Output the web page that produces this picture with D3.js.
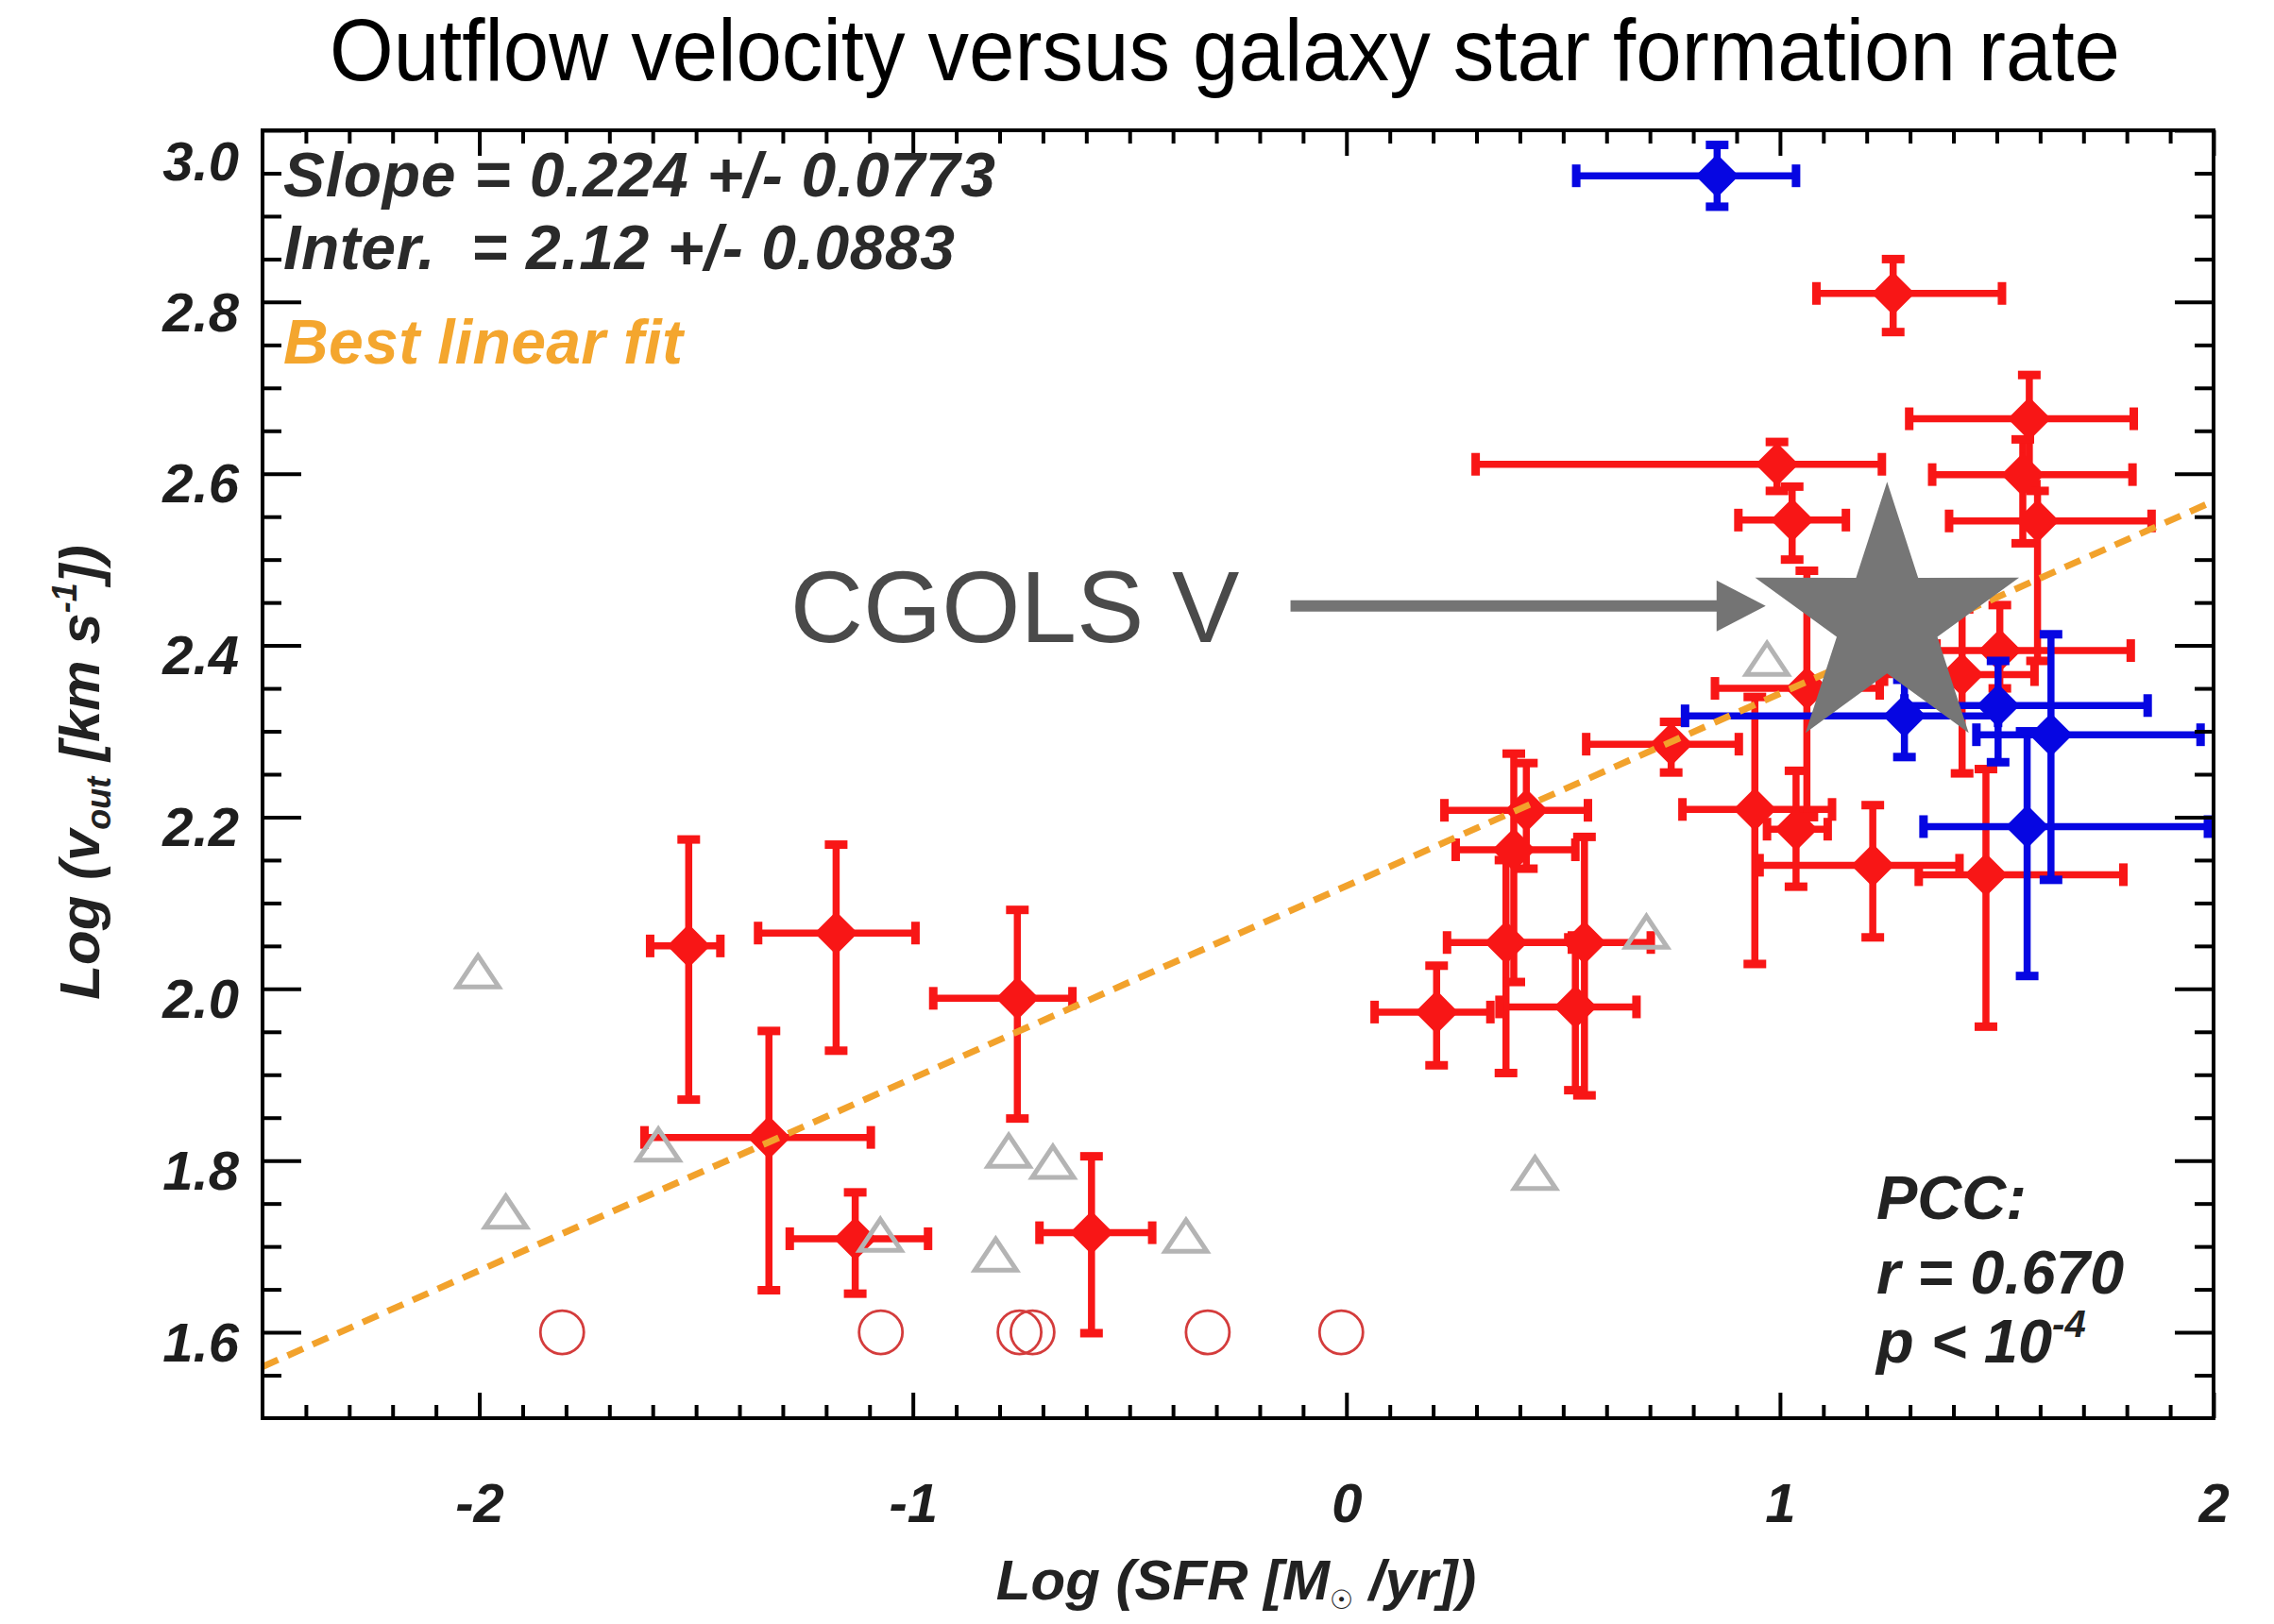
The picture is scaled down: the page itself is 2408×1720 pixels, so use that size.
<!DOCTYPE html>
<html>
<head>
<meta charset="utf-8">
<title>Outflow velocity versus galaxy star formation rate</title>
<script src="https://cdn.jsdelivr.net/npm/d3@7/dist/d3.min.js"></script>
<style>
  html, body { margin: 0; padding: 0; background: #fff; }
  svg { display: block; }
  text { font-family: "Liberation Sans", Arial, Helvetica, sans-serif; white-space: pre; }
</style>
</head>
<body>
<svg id="chart" width="2408" height="1720"></svg>
<script>
// ---- axis definitions ----
const xDomain = [-2.5, 2.0];
const yDomain = [1.5, 3.0];
const xTicks = [-2, -1, 0, 1, 2];
const yTicks = [1.6, 1.8, 2.0, 2.2, 2.4, 2.6, 2.8, 3.0];

// ---- detected outflows: [logSFR, logVout, sfrLow, sfrHigh, voutLow, voutHigh] ----
const redPoints = [
  [-1.517, 2.050, -1.606, -1.444, 1.871, 2.174],
  [-1.177, 2.065, -1.357, -0.994, 1.928, 2.168],
  [-1.332, 1.827, -1.619, -1.097, 1.649, 1.951],
  [-1.133, 1.709, -1.284, -0.965, 1.645, 1.763],
  [-0.759, 1.989, -0.953, -0.632, 1.849, 2.092],
  [-0.588, 1.716, -0.708, -0.448, 1.599, 1.805],
  [ 0.208, 1.973,  0.065,  0.332, 1.911, 2.027],
  [ 0.415, 2.208,  0.226,  0.557, 2.140, 2.263],
  [ 0.386, 2.162,  0.252,  0.528, 2.008, 2.274],
  [ 0.368, 2.054,  0.232,  0.520, 1.902, 2.150],
  [ 0.549, 2.054,  0.360,  0.702, 1.876, 2.177],
  [ 0.528, 1.979,  0.353,  0.669, 1.882, 2.060],
  [ 0.749, 2.285,  0.553,  0.905, 2.252, 2.311],
  [ 0.993, 2.611,  0.298,  1.235, 2.580, 2.637],
  [ 1.028, 2.546,  0.904,  1.152, 2.500, 2.585],
  [ 1.062, 2.350,  0.850,  1.230, 2.200, 2.487],
  [ 0.942, 2.209,  0.775,  1.120, 2.029, 2.340],
  [ 1.037, 2.186,  0.970,  1.110, 2.119, 2.254],
  [ 1.214, 2.144,  0.953,  1.414, 2.060, 2.214],
  [ 1.261, 2.810,  1.084,  1.512, 2.765, 2.850],
  [ 1.575, 2.664,  1.298,  1.816, 2.588, 2.715],
  [ 1.560, 2.599,  1.351,  1.813, 2.519, 2.640],
  [ 1.594, 2.545,  1.390,  1.857, 2.382, 2.580],
  [ 1.507, 2.394,  1.361,  1.809, 2.350, 2.447],
  [ 1.420, 2.366,  1.240,  1.587, 2.251, 2.442],
  [ 1.475, 2.133,  1.320,  1.792, 1.956, 2.256]
];

const bluePoints = [
  [ 0.855, 2.947,  0.530,  1.037, 2.911, 2.983],
  [ 1.287, 2.318,  0.781,  1.503, 2.270, 2.360],
  [ 1.503, 2.330,  1.287,  1.848, 2.264, 2.382],
  [ 1.625, 2.296,  1.453,  1.970, 2.127, 2.413],
  [ 1.570, 2.189,  1.331,  1.987, 2.015, 2.300]
];

// ---- other samples: [logSFR, logVout] ----
const grayTriangles = [
  [-2.003, 2.020], [-1.939, 1.740], [-1.587, 1.818], [-1.075, 1.713],
  [-0.779, 1.811], [-0.677, 1.798], [-0.809, 1.690], [-0.370, 1.712],
  [ 0.435, 1.785], [ 0.692, 2.066], [ 0.970, 2.384]
];

// non-detections placed on the floor value
const nonDetectionSFR = [-1.809, -1.074, -0.754, -0.724, -0.320, -0.012];
const nonDetectionV = 1.6;

// best linear fit
const fitSlope = 0.224;
const fitIntercept = 2.12;

// highlighted simulation
const cgolsPoint = [1.247, 2.429];
const cgolsArrow = [[-0.129, 2.446], [0.967, 2.446]];
const cgolsLabelAt = [-1.283, 2.404];

// ---- layout ----
const W = 2408, H = 1720;
const plot = { left: 278, right: 2344, top: 138, bottom: 1502 };

const x = d3.scaleLinear().domain(xDomain).range([plot.left, plot.right]);
const y = d3.scaleLinear().domain(yDomain).range([plot.bottom, plot.top]);

const svg = d3.select('#chart');
svg.append('rect').attr('width', W).attr('height', H).attr('fill', '#fff');

// title
svg.append('text')
  .attr('x', 349).attr('y', 85)
  .attr('font-size', 92)
  .attr('textLength', 1896).attr('lengthAdjust', 'spacingAndGlyphs')
  .attr('fill', '#000')
  .text('Outflow velocity versus galaxy star formation rate');

const dataLayer = svg.append('g');

// ---- non-detections (open circles) ----
dataLayer.append('g').selectAll('circle')
  .data(nonDetectionSFR)
  .join('circle')
  .attr('cx', d => x(d))
  .attr('cy', y(nonDetectionV))
  .attr('r', 23)
  .attr('fill', 'none')
  .attr('stroke', '#d43c3c')
  .attr('stroke-width', 2.8);

// ---- diamond with error bars ----
function diamond(cx, cy, h) {
  return `M${cx},${cy - h}L${cx + h},${cy}L${cx},${cy + h}L${cx - h},${cy}Z`;
}

function drawErrorPoints(parent, data, color) {
  const g = parent.append('g');
  const lw = 7.5, capLen = 24, capThk = 9;

  g.selectAll('line.h').data(data).join('line').attr('class', 'h')
    .attr('x1', d => x(d[2])).attr('x2', d => x(d[3]))
    .attr('y1', d => y(d[1])).attr('y2', d => y(d[1]))
    .attr('stroke', color).attr('stroke-width', lw);

  g.selectAll('line.v').data(data).join('line').attr('class', 'v')
    .attr('x1', d => x(d[0])).attr('x2', d => x(d[0]))
    .attr('y1', d => y(d[4])).attr('y2', d => y(d[5]))
    .attr('stroke', color).attr('stroke-width', lw);

  const hCaps = data.flatMap(d => [[d[2], d[1]], [d[3], d[1]]]);
  g.selectAll('rect.hc').data(hCaps).join('rect').attr('class', 'hc')
    .attr('x', p => x(p[0]) - capThk / 2).attr('y', p => y(p[1]) - capLen / 2)
    .attr('width', capThk).attr('height', capLen)
    .attr('fill', color);

  const vCaps = data.flatMap(d => [[d[0], d[4]], [d[0], d[5]]]);
  g.selectAll('rect.vc').data(vCaps).join('rect').attr('class', 'vc')
    .attr('x', p => x(p[0]) - capLen / 2).attr('y', p => y(p[1]) - capThk / 2)
    .attr('width', capLen).attr('height', capThk)
    .attr('fill', color);

  g.selectAll('path.dm').data(data).join('path').attr('class', 'dm')
    .attr('d', d => diamond(x(d[0]), y(d[1]), 23))
    .attr('fill', color);
}

drawErrorPoints(dataLayer, redPoints, '#f81616');

// ---- open triangles ----
dataLayer.append('g').selectAll('path')
  .data(grayTriangles)
  .join('path')
  .attr('d', d => {
    const cx = x(d[0]), cy = y(d[1]);
    return `M${cx},${cy - 17}L${cx + 22},${cy + 16}L${cx - 22},${cy + 16}Z`;
  })
  .attr('fill', 'none')
  .attr('stroke', '#b4b4b4')
  .attr('stroke-width', 5)
  .attr('stroke-linejoin', 'miter');

drawErrorPoints(dataLayer, bluePoints, '#0606e2');

// ---- best linear fit ----
dataLayer.append('line')
  .attr('x1', x(xDomain[0])).attr('y1', y(fitIntercept + fitSlope * xDomain[0]))
  .attr('x2', x(xDomain[1])).attr('y2', y(fitIntercept + fitSlope * xDomain[1]))
  .attr('stroke', '#f2a22c')
  .attr('stroke-width', 7)
  .attr('stroke-dasharray', '18 11');

// ---- CGOLS V star, arrow and label ----
function starPath(cx, cy, R, r) {
  let p = '';
  for (let i = 0; i < 10; i++) {
    const a = -Math.PI / 2 + i * Math.PI / 5;
    const rad = i % 2 === 0 ? R : r;
    p += (i ? 'L' : 'M') + (cx + rad * Math.cos(a)).toFixed(1) + ',' + (cy + rad * Math.sin(a)).toFixed(1);
  }
  return p + 'Z';
}

const ann = svg.append('g');
ann.append('path')
  .attr('d', starPath(x(cgolsPoint[0]), y(cgolsPoint[1]), 147, 56))
  .attr('fill', '#767676');

const ax0 = x(cgolsArrow[0][0]), ax1 = x(cgolsArrow[1][0]), ay = y(cgolsArrow[0][1]);
const headLen = 52, headHalf = 27;
ann.append('line')
  .attr('x1', ax0).attr('x2', ax1 - headLen + 2)
  .attr('y1', ay).attr('y2', ay)
  .attr('stroke', '#747474').attr('stroke-width', 12);
ann.append('path')
  .attr('d', `M${ax1},${ay}L${ax1 - headLen},${ay - headHalf}L${ax1 - headLen},${ay + headHalf}Z`)
  .attr('fill', '#747474');

ann.append('text')
  .attr('x', x(cgolsLabelAt[0])).attr('y', y(cgolsLabelAt[1]))
  .attr('font-size', 107)
  .attr('fill', '#4a4a4a')
  .text('CGOLS V');

// ---- axes (inward ticks on all four sides) ----
const xMinor = d3.range(-24, 20).map(i => i / 10)
  .filter(v => !xTicks.some(t => Math.abs(t - v) < 1e-6));
const yMinor = d3.range(31, 60).map(i => i / 20)
  .filter(v => !yTicks.some(t => Math.abs(t - v) < 1e-6));

const xMajLen = 27, xMinLen = 14, yMajLen = 41, yMinLen = 20;
const tickFont = { size: 58, fill: '#1e1e1e' };

function styleAxis(g) {
  g.select('.domain').remove();
  g.selectAll('line').attr('stroke', '#000').attr('stroke-width', 4);
  g.attr('font-family', '"Liberation Sans", Arial, Helvetica, sans-serif')
   .attr('font-size', tickFont.size)
   .attr('font-weight', 'bold')
   .attr('font-style', 'italic');
  g.selectAll('text').attr('fill', tickFont.fill);
}

const axes = svg.append('g');

// bottom
axes.append('g').attr('transform', `translate(0,${plot.bottom})`)
  .call(d3.axisBottom(x).tickValues(xTicks).tickSize(-xMajLen).tickPadding(69).tickFormat(d => String(d)))
  .call(styleAxis);
axes.append('g').attr('transform', `translate(0,${plot.bottom})`)
  .call(d3.axisBottom(x).tickValues(xMinor).tickSize(-xMinLen).tickFormat(''))
  .call(styleAxis);

// top
axes.append('g').attr('transform', `translate(0,${plot.top})`)
  .call(d3.axisTop(x).tickValues(xTicks).tickSize(-xMajLen).tickFormat(''))
  .call(styleAxis);
axes.append('g').attr('transform', `translate(0,${plot.top})`)
  .call(d3.axisTop(x).tickValues(xMinor).tickSize(-xMinLen).tickFormat(''))
  .call(styleAxis);

// left
const leftAxis = axes.append('g').attr('transform', `translate(${plot.left},0)`)
  .call(d3.axisLeft(y).tickValues(yTicks).tickSize(-yMajLen).tickPadding(25).tickFormat(d => d.toFixed(1)))
  .call(styleAxis);
leftAxis.selectAll('text').attr('dy', '0.52em');
leftAxis.selectAll('text').filter(d => d === 3.0).attr('dy', '0.9em');
axes.append('g').attr('transform', `translate(${plot.left},0)`)
  .call(d3.axisLeft(y).tickValues(yMinor).tickSize(-yMinLen).tickFormat(''))
  .call(styleAxis);

// right
axes.append('g').attr('transform', `translate(${plot.right},0)`)
  .call(d3.axisRight(y).tickValues(yTicks).tickSize(-yMajLen).tickFormat(''))
  .call(styleAxis);
axes.append('g').attr('transform', `translate(${plot.right},0)`)
  .call(d3.axisRight(y).tickValues(yMinor).tickSize(-yMinLen).tickFormat(''))
  .call(styleAxis);

// frame
axes.append('rect')
  .attr('x', plot.left).attr('y', plot.top)
  .attr('width', plot.right - plot.left).attr('height', plot.bottom - plot.top)
  .attr('fill', 'none').attr('stroke', '#000').attr('stroke-width', 4);

// ---- axis titles ----
const yLabel = svg.append('text')
  .attr('transform', 'translate(105,818) rotate(-90)')
  .attr('text-anchor', 'middle')
  .attr('font-size', 60).attr('font-weight', 'bold').attr('font-style', 'italic')
  .attr('fill', '#222');
yLabel.append('tspan').text('Log (v');
yLabel.append('tspan').attr('font-size', 36).attr('dy', 12).text('out');
yLabel.append('tspan').attr('dy', -12).text(' [km s');
yLabel.append('tspan').attr('font-size', 36).attr('dy', -24).text('-1');
yLabel.append('tspan').attr('dy', 24).text('])');

const xLabel = svg.append('text')
  .attr('x', 1309).attr('y', 1694)
  .attr('text-anchor', 'middle')
  .attr('font-size', 60).attr('font-weight', 'bold').attr('font-style', 'italic')
  .attr('fill', '#222');
xLabel.append('tspan').text('Log (SFR [M');
xLabel.append('tspan').attr('font-size', 28).attr('font-style', 'normal').attr('font-weight', 'normal').attr('dy', 10).text('\u2609');
xLabel.append('tspan').attr('dy', -10).text(' /yr])');

// ---- fit statistics ----
const stats = svg.append('g')
  .attr('font-size', 66).attr('font-weight', 'bold').attr('font-style', 'italic');
stats.append('text').attr('x', 300).attr('y', 208).attr('fill', '#2a2a2a')
  .attr('textLength', 754).attr('lengthAdjust', 'spacing')
  .text('Slope = 0.224 +/- 0.0773');
stats.append('text').attr('x', 300).attr('y', 285).attr('fill', '#2a2a2a')
  .attr('textLength', 711).attr('lengthAdjust', 'spacing')
  .text('Inter.  = 2.12 +/- 0.0883');
stats.append('text').attr('x', 300).attr('y', 385).attr('fill', '#f4a62e')
  .attr('textLength', 423).attr('lengthAdjust', 'spacing')
  .text('Best linear fit');

// ---- correlation ----
const pcc = svg.append('g')
  .attr('font-size', 65).attr('font-weight', 'bold').attr('font-style', 'italic')
  .attr('fill', '#222');
pcc.append('text').attr('x', 1987).attr('y', 1291).text('PCC:');
pcc.append('text').attr('x', 1987).attr('y', 1370).text('r = 0.670');
const pText = pcc.append('text').attr('x', 1987).attr('y', 1443);
pText.append('tspan').text('p < 10');
pText.append('tspan').attr('font-size', 40).attr('dy', -27).text('-4');
</script>
</body>
</html>
